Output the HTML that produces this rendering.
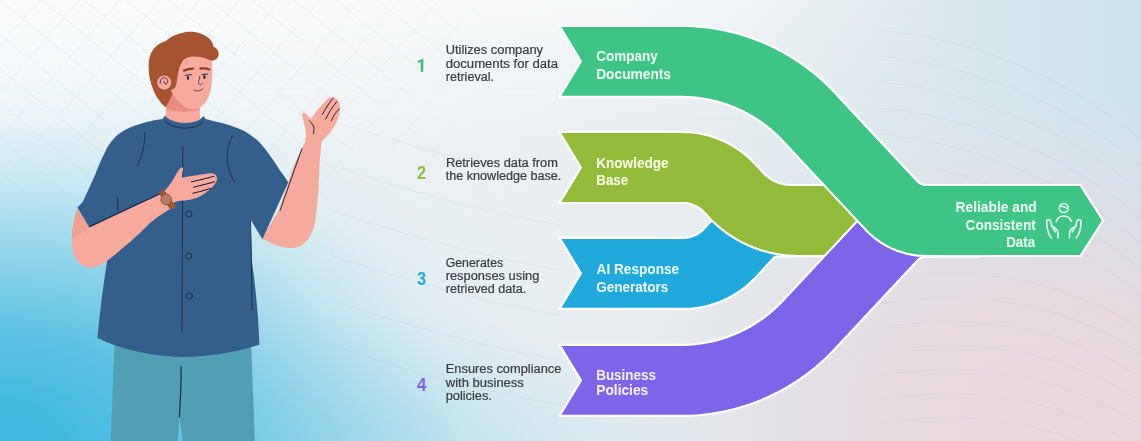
<!DOCTYPE html>
<html><head><meta charset="utf-8">
<style>
html,body{margin:0;padding:0;background:#fff;}
body{width:1141px;height:441px;overflow:hidden;font-family:"Liberation Sans",sans-serif;}
svg{display:block}
.d{font-family:"Liberation Sans",sans-serif;font-size:12px;fill:#3a3f44;}
.n{font-family:"Liberation Sans",sans-serif;font-size:18px;font-weight:bold;}
.t{font-family:"Liberation Sans",sans-serif;font-size:15px;font-weight:bold;fill:#f2fff6;}
</style></head><body>
<svg width="1141" height="441" viewBox="0 0 1141 441">
<defs>
<linearGradient id="bg0" x1="0" y1="0" x2="1141" y2="0" gradientUnits="userSpaceOnUse">
<stop offset="0" stop-color="#f7f9fa"/><stop offset="0.3" stop-color="#eff3f5"/><stop offset="0.6" stop-color="#e7edf0"/><stop offset="0.8" stop-color="#dce8ee"/><stop offset="1" stop-color="#cae2eb"/>
</linearGradient>
<radialGradient id="bgc" cx="0" cy="0" r="1.3" gradientUnits="userSpaceOnUse" gradientTransform="translate(0,447) scale(495,345)">
<stop offset="0" stop-color="#3fb8de" stop-opacity="1"/>
<stop offset="0.1" stop-color="#3fb8de" stop-opacity="0.97"/>
<stop offset="0.254" stop-color="#3fb8de" stop-opacity="0.84"/>
<stop offset="0.43" stop-color="#3fb8de" stop-opacity="0.55"/>
<stop offset="0.592" stop-color="#3fb8de" stop-opacity="0.26"/>
<stop offset="0.723" stop-color="#3fb8de" stop-opacity="0.08"/>
<stop offset="0.846" stop-color="#3fb8de" stop-opacity="0.02"/>
<stop offset="1" stop-color="#3fb8de" stop-opacity="0"/>
</radialGradient>
<radialGradient id="bgc2" cx="0" cy="0" r="1" gradientUnits="userSpaceOnUse" gradientTransform="translate(350,475) scale(400,165)">
<stop offset="0" stop-color="#3fb8de" stop-opacity="0.26"/>
<stop offset="0.35" stop-color="#3fb8de" stop-opacity="0.17"/>
<stop offset="0.6" stop-color="#3fb8de" stop-opacity="0.1"/>
<stop offset="0.85" stop-color="#3fb8de" stop-opacity="0.03"/>
<stop offset="1" stop-color="#3fb8de" stop-opacity="0"/>
</radialGradient>
<radialGradient id="bgp" cx="0" cy="0" r="1" gradientUnits="userSpaceOnUse" gradientTransform="translate(1060,420) scale(440,330)">
<stop offset="0" stop-color="#e8d6dc" stop-opacity="1"/>
<stop offset="0.35" stop-color="#e7d8de" stop-opacity="0.92"/>
<stop offset="0.65" stop-color="#e4dbe2" stop-opacity="0.62"/>
<stop offset="0.85" stop-color="#e3e0e7" stop-opacity="0.27"/>
<stop offset="1" stop-color="#e3e3e9" stop-opacity="0"/>
</radialGradient>
<filter id="nf" x="0" y="0" width="1141" height="441" filterUnits="userSpaceOnUse"><feOffset dx="0" dy="0"/></filter>
<linearGradient id="bgt" x1="0" y1="0" x2="0" y2="150" gradientUnits="userSpaceOnUse">
<stop offset="0" stop-color="#fbfcfd" stop-opacity="0.75"/><stop offset="0.4" stop-color="#fbfcfd" stop-opacity="0.4"/><stop offset="1" stop-color="#fbfcfd" stop-opacity="0"/>
</linearGradient>
<linearGradient id="bgtm" x1="0" y1="0" x2="1141" y2="0" gradientUnits="userSpaceOnUse">
<stop offset="0" stop-color="#fff" stop-opacity="1"/><stop offset="0.55" stop-color="#fff" stop-opacity="1"/><stop offset="0.85" stop-color="#fff" stop-opacity="0"/>
</linearGradient>
<mask id="mt" maskUnits="userSpaceOnUse" x="0" y="0" width="1141" height="441"><rect width="1141" height="441" fill="url(#bgtm)"/></mask>
</defs>
<rect width="1141" height="441" fill="url(#bg0)"/>
<rect width="1141" height="150" fill="url(#bgt)" mask="url(#mt)"/>
<rect width="1141" height="441" fill="url(#bgp)"/>
<rect width="1141" height="441" fill="url(#bgc2)"/>
<rect width="1141" height="441" fill="url(#bgc)"/>
<defs><radialGradient id="gm" cx="0" cy="0" r="1" gradientUnits="userSpaceOnUse" gradientTransform="translate(120,40) scale(420,230)">
<stop offset="0" stop-color="#fff" stop-opacity="1"/><stop offset="0.6" stop-color="#fff" stop-opacity="0.7"/><stop offset="1" stop-color="#fff" stop-opacity="0"/></radialGradient>
<mask id="gmask" maskUnits="userSpaceOnUse" x="0" y="0" width="1141" height="441"><rect width="1141" height="441" fill="url(#gm)"/></mask></defs>
<g mask="url(#gmask)"><path d="M-504,0 L-4,410 M-462,0 L38,410 M-420,0 L80,410 M-378,0 L122,410 M-336,0 L164,410 M-294,0 L206,410 M-252,0 L248,410 M-210,0 L290,410 M-168,0 L332,410 M-126,0 L374,410 M-84,0 L416,410 M-42,0 L458,410 M0,0 L500,410 M42,0 L542,410 M84,0 L584,410 M126,0 L626,410 M168,0 L668,410 M210,0 L710,410 M252,0 L752,410 M294,0 L794,410 M336,0 L836,410 M378,0 L878,410 M420,0 L920,410 M462,0 L962,410 M504,0 L1004,410 M546,0 L1046,410 M0,0 L-350,402 M40,0 L-310,402 M80,0 L-270,402 M120,0 L-230,402 M160,0 L-190,402 M200,0 L-150,402 M240,0 L-110,402 M280,0 L-70,402 M320,0 L-30,402 M360,0 L10,402 M400,0 L50,402 M440,0 L90,402 M480,0 L130,402 M520,0 L170,402 M560,0 L210,402 M600,0 L250,402 M640,0 L290,402 M680,0 L330,402 M720,0 L370,402 M760,0 L410,402 M800,0 L450,402 M840,0 L490,402" fill="none" stroke="#c3ced5" stroke-width="1" opacity="0.28"/></g>
<g id="waves"><path d="M880,30 C960,38 1060,70 1141,140 M880,56 C960,64 1060,96 1141,166 M880,82 C960,90 1060,122 1141,192 M880,108 C960,116 1060,148 1141,218 M880,134 C960,142 1060,174 1141,244 M880,160 C960,168 1060,200 1141,270 M880,186 C960,194 1060,226 1141,296 M880,280 C960,265 1060,275 1141,330 M880,304 C960,289 1060,299 1141,354 M880,328 C960,313 1060,323 1141,378 M880,352 C960,337 1060,347 1141,402 M880,376 C960,361 1060,371 1141,426 M880,400 C960,385 1060,395 1141,450 M880,424 C960,409 1060,419 1141,474 M330,120 C420,150 500,170 560,180 M330,165 C420,195 500,215 560,225 M330,210 C420,240 500,260 560,270 M330,255 C420,285 500,305 560,315 M330,300 C420,330 500,350 560,360 M330,345 C420,375 500,395 560,405" fill="none" stroke="#9fb0bd" stroke-width="1" opacity="0.12"/></g>

<g id="char" stroke-linecap="round" stroke-linejoin="round">
<!-- pants -->
<path d="M114.6,340 L110.6,441 L177.6,441 L179.4,417 L183.1,441 L254.9,441 L251,340 Z" fill="#529fb5"/>
<path d="M181.1,366.5 C181.3,385 180.3,402 179.4,417" fill="none" stroke="#1c2b45" stroke-width="1.2"/>
<!-- right upper arm / forearm (raised) -->
<path d="M306,140.5 C300,152 296,160 293,168 C289,180 284,195 278.8,210.6 L262,238 C268,243 285,250 296,247.5 C306,245 313,236 315.5,219 C317.5,205 318.5,195 319.6,162 L321.6,141 Z" fill="#f6aa9e"/>
<!-- right hand -->
<path d="M303.5,148.5 C304.5,144 305.5,141 305.9,137.4 C306,134 305.8,131 305.1,127.9 C304.3,124 303.2,120.5 302.4,116.7 C301.9,114 302.3,113 303.5,113.1 C304.8,113 305.8,113.6 306.7,114.4 C308,115.8 309.3,117.4 310.6,119.1 C313,115.5 315.8,112 318.6,108.8 C321.4,105.5 324.4,102.2 327.3,99.3 C329,97.7 330.6,96.9 332.1,96.9 C333.8,96.9 335,97.5 336,98.5 C337,99.4 337.8,100.4 338.4,101.7 C339.3,103.2 339.8,104.8 340,106.4 C340.2,108.5 340,110.6 339.5,112.8 C338.8,115.8 337.9,118.7 336.8,121.5 C335.3,125 333.5,128.2 331.3,131 C328.8,134.3 326,137.2 323.3,139.8 C321.8,141.5 320.8,143.3 320.2,145.3 L319.4,155 Z" fill="#f6aa9e"/>
<g fill="none" stroke="#1c1c38" stroke-width="0.95">
<path d="M302,148.6 C296,165 288,188 280,210.6"/>
<path d="M309.4,120.7 C311.5,123 313,125 313.8,127.1 C314.2,129 314,131.5 313.5,133.4"/>
<path d="M322.5,114.4 C325.5,108.5 329,103 332.9,98.5"/>
<path d="M325.7,119.1 C329,112.5 332.5,106.5 336.8,101.7"/>
<path d="M331.3,120.7 C333.5,116 336,112 339.2,108.8"/>
</g>
<!-- left upper arm (skin under sleeve) -->
<path d="M77.2,208.2 C75,215 74,219 73.6,223.6 C72.3,229 71.6,234 71.8,239.9 L80,250 L146.6,226.6 L89.2,227.2 Z" fill="#f0a092"/>
<!-- shirt body -->
<path d="M162.5,119 C156,120 150,121 144.9,122.5 C138,124.5 132,126.5 127.4,128.7 C122,131.5 118,134 114.9,137.4 C110,142.5 107,147 104.9,152.4 C101,160 98,167 95,174.9 C90,186 86,195 82.5,202.3 L77.4,207.5 L89.2,227.2 L107,262 C104,280 100,310 97.4,338 C120,349.2 150,356 180,357 C210,357.4 240,351 259.4,344.8 C258.6,320 256,290 252,262 L250.2,219 L262.4,239.2 L288.2,182.5 C285,177 282.5,173.5 279.6,169.9 C276,164 273,159.5 269.6,154.9 C266,150 263,146 259.6,142.4 C255,138 250,134.5 244.7,131.2 C238,128 231,125.5 224.7,123.7 C218,122 212,120.8 205.7,119 C198,127 172,128 162.5,119 Z" fill="#345e8c"/>
<!-- neck -->
<path d="M166.5,92 L165.6,118 C172,128 196,128 200,118 L199.4,100 Z" fill="#f6aa9e"/>
<path d="M167,96 L170.4,89.5 C175,98 184,106 194,109.4 L199.6,107 L199.5,109.6 C192,112.5 176,112.5 166.3,109 Z" fill="#ea8c7f"/>
<!-- collar -->
<path d="M162.5,119 C170,130 198,131 205.7,119 L203.5,116 C197,125.5 172,125 165,115.5 Z" fill="#345e8c"/>
<path d="M165,121 C174,130.5 196,130.5 203.5,121.5" fill="none" stroke="#1c2b45" stroke-width="0.9"/>
<!-- shirt lines -->
<g fill="none" stroke="#1c2b45" stroke-width="0.9">
<path d="M182.8,147 L182,331"/>
<path d="M144.8,132.5 C145,145 142,156 137.4,166.2"/>
<path d="M232.2,136 C226,148 224,165 234.7,182.4"/>
<path d="M117.2,197 C117.5,202 118,206 118,210.5"/>
<path d="M250.5,220 C251.3,250 251.8,285 252,310"/>
</g>
<g fill="#345e8c" stroke="#1c2b45" stroke-width="0.9">
<circle cx="188.7" cy="214" r="3.1"/><circle cx="188.7" cy="256.1" r="3.1"/><circle cx="189.2" cy="296" r="3.1"/>
</g>
<!-- left forearm -->
<path d="M89.6,226.8 L159.9,194.2 L170.2,208.9 C160,215 150,222 146.6,226.6 C135,238 120,251 107.2,260.8 C104.5,263 102,264.5 99.9,265.3 C96,267.3 92.5,268.2 89,268 C85.5,267.5 82.5,265.8 80,263.5 C77,261 74.8,258 73.6,254.4 C72.3,250 71.7,245 71.8,239.9 Z" fill="#f6aa9e"/>
<path d="M89.6,226.6 L160,193.8" fill="none" stroke="#1c2b45" stroke-width="1.2"/>
<!-- left hand -->
<path d="M161,193 L165,190.6 C167.5,187.8 169.8,184.8 171.8,181.8 C173.8,178.6 175.5,175.4 177.2,172.2 C178.6,169.8 180,168 181.6,167.4 C182.8,167.2 183.2,168.2 183,169.6 C182.4,172.3 182,175 182,177.7 C186.3,177 190.6,176.3 194.9,175.6 C199.9,174.8 204.9,174 209.9,173.3 C212.8,173 214.8,173.9 216,175.6 C216.9,176.8 217.2,178.2 216.9,179.7 C216.4,181.8 215.4,183.6 213.9,185.2 C212.3,187.1 210.5,188.9 208.5,190.6 C206.4,192.4 204.1,194 201.7,195.4 C198.3,197.2 194.7,198.6 190.8,199.5 C187.2,200.3 183.6,200.7 179.9,200.8 C177.5,201.2 175.2,201.9 173.1,202.9 L171,208.6 Z" fill="#f6aa9e"/>
<g fill="none" stroke="#1c1c38" stroke-width="1.05">
<path d="M191.5,181.8 C199,180.2 206.5,178.2 213.9,176.3"/>
<path d="M193.5,187.2 C200.5,185.6 207.5,183.8 214.6,181.8"/>
<path d="M192.9,193.3 C198.8,192 204.8,190.4 210.5,188.6"/>
</g>
<!-- watch -->
<path d="M158.9,192.2 L163.2,189.4 L175.8,206.6 L171.6,209.6 Z" fill="#9c5636" stroke="#9c5636" stroke-width="0.8"/>
<circle cx="166.2" cy="199.4" r="5.3" fill="#b87c62" stroke="#8f4e31" stroke-width="0.9"/>
<!-- head: hair back -->
<path d="M165.9,107.6 C163,105 161,103 160,101.5 C156,96 154,92 153.2,89.5 C150,82 148.4,74 148.6,65 C149,57 151,52 154.5,48 C157,45 160,43 163.5,41.9 C165,41.6 166,41 167,40 C172,36 180,32.8 187.6,31.8 C195,31 203,33 209.2,38.6 C212,41.5 213,44 213.5,46.5 C217,48.5 219,51 218.6,54.5 C218.3,58 215.5,60.5 212.1,60.8 L196,59 L178,75 L172,95 Z" fill="#a6532f"/>
<!-- face -->
<path d="M179,62 C186,55 200,55 211.6,60.5 C212.4,66 212.6,72 212.1,76 C212,81 211.8,84 211.2,87.7 C210.5,92 209.2,95.5 207.6,98.5 C205.8,102 203.8,104.8 201.2,106.7 C199,108.5 196.5,109.4 194,109.4 C191,109.4 187.8,108.6 184.9,106.7 C181.5,104.5 178.3,101.5 175.8,98.5 C173.5,95.5 171.5,92 170.4,89.5 C168,84 172,68 179,62 Z" fill="#f6aa9e"/>
<!-- hair front/sideburn -->
<path d="M212.1,60.8 C208,59.5 204,57.5 196.7,55.6 C192,54.8 187,56.5 183.5,60 C180,64 178.5,70 177.6,76 C177,81 176.5,85 175,88 L170.5,90.5 L166,84 L166,62 L184,47 L208,50 Z" fill="#a6532f"/>
<!-- ear -->
<circle cx="164.2" cy="82.6" r="7.1" fill="#f6aa9e"/>
<path d="M160.2,83.5 C159.6,79 163.1,76.5 166.1,78.2 C168.4,79.7 168.2,83 165.9,84.2 M163.6,81.5 L165.9,84.2" fill="none" stroke="#1c1c38" stroke-width="0.8"/>
<!-- brows -->
<path d="M184,70.6 C187,69.2 190,68.6 193.1,68.6" fill="none" stroke="#86401f" stroke-width="2.3"/>
<path d="M200.5,68.5 C203.5,68 206.5,68.4 209.2,69.5" fill="none" stroke="#86401f" stroke-width="2.3"/>
<!-- eyes -->
<ellipse cx="188" cy="77.9" rx="1.15" ry="1.9" fill="#26264f"/>
<ellipse cx="204.4" cy="77" rx="1.15" ry="1.9" fill="#26264f"/>
<g fill="none" stroke="#26264f" stroke-width="1">
<path d="M185.3,75.5 C187,74.9 189.3,74.6 191.3,74.7"/>
<path d="M202.1,74.7 C204,74.2 205.8,74 207.6,74.1"/>
</g>
<g fill="none" stroke="#26264f" stroke-width="0.8">
<path d="M199.8,76.4 C199.4,79 198.7,81 198.5,82.2 C198.6,84.8 201,86 202.7,83.3"/>
<path d="M194,89.8 C196.5,91.8 200.5,91.3 203,88.6"/>
</g>
</g>

<g stroke="#fff" stroke-width="2.1" stroke-linejoin="round">
<path d="M559.5,237.9 L683.0,237.9 L683.6,237.9 L684.2,237.9 L684.8,237.8 L685.3,237.8 L685.9,237.8 L686.5,237.7 L687.1,237.6 L687.7,237.5 L688.2,237.4 L688.8,237.3 L689.4,237.2 L689.9,237.0 L690.5,236.9 L691.1,236.7 L691.6,236.6 L692.2,236.4 L692.7,236.2 L693.3,236.0 L693.8,235.8 L694.4,235.5 L694.9,235.3 L695.4,235.0 L695.9,234.8 L696.5,234.5 L697.0,234.2 L697.5,233.9 L698.0,233.6 L698.5,233.3 L699.0,233.0 L699.4,232.7 L699.9,232.3 L700.4,232.0 L700.8,231.6 L701.3,231.2 L701.7,230.9 L702.2,230.5 L702.6,230.1 L703.0,229.7 L703.4,229.3 L703.8,228.8 L707.6,224.8 L709.4,222.9 L711.2,221.1 L713.0,219.4 L714.8,217.7 L716.7,216.0 L718.7,214.3 L720.6,212.7 L722.6,211.2 L724.6,209.6 L726.7,208.1 L728.8,206.7 L730.9,205.3 L733.0,204.0 L735.2,202.6 L737.4,201.4 L739.6,200.2 L741.8,199.0 L744.1,197.9 L746.4,196.8 L748.7,195.7 L751.0,194.8 L753.4,193.8 L755.8,192.9 L758.2,192.1 L760.6,191.3 L763.0,190.6 L765.4,189.9 L767.9,189.2 L770.3,188.6 L772.8,188.1 L775.3,187.6 L777.8,187.2 L780.3,186.8 L782.8,186.4 L785.3,186.1 L787.8,185.9 L790.4,185.7 L792.9,185.6 L795.4,185.5 L798.0,185.5 L820.0,185.5 L820.0,256.5 L777.1,256.5 L777.0,256.5 L776.9,256.5 L776.8,256.5 L776.7,256.5 L776.6,256.5 L776.5,256.5 L776.4,256.5 L776.3,256.6 L776.3,256.6 L776.2,256.6 L776.1,256.6 L776.0,256.6 L775.9,256.7 L775.8,256.7 L775.7,256.7 L775.6,256.7 L775.5,256.8 L775.5,256.8 L775.4,256.8 L775.3,256.9 L775.2,256.9 L775.1,257.0 L775.0,257.0 L775.0,257.0 L774.9,257.1 L774.8,257.1 L774.7,257.2 L774.6,257.2 L774.6,257.3 L774.5,257.3 L774.4,257.4 L774.3,257.4 L774.3,257.5 L774.2,257.6 L774.1,257.6 L774.1,257.7 L774.0,257.7 L773.9,257.8 L773.9,257.9 L773.8,257.9 L755.8,277.3 L754.4,278.7 L752.9,280.2 L751.5,281.6 L750.0,283.0 L748.4,284.4 L746.9,285.7 L745.3,287.0 L743.7,288.2 L742.1,289.5 L740.4,290.7 L738.7,291.8 L737.0,292.9 L735.3,294.0 L733.6,295.1 L731.8,296.1 L730.0,297.1 L728.2,298.0 L726.4,298.9 L724.5,299.8 L722.7,300.6 L720.8,301.4 L718.9,302.2 L717.0,302.9 L715.1,303.6 L713.1,304.2 L711.2,304.8 L709.2,305.4 L707.2,305.9 L705.3,306.4 L703.3,306.8 L701.3,307.2 L699.3,307.6 L697.2,307.9 L695.2,308.1 L693.2,308.4 L691.2,308.6 L689.1,308.7 L687.1,308.8 L685.0,308.9 L683.0,308.9 L559.5,308.9 L580.9,273.4Z" fill="#1fa9dc"/>
<path d="M559.5,132.0 L682.0,132.0 L684.0,132.0 L686.1,132.1 L688.1,132.2 L690.2,132.3 L692.2,132.5 L694.2,132.8 L696.2,133.0 L698.3,133.3 L700.3,133.7 L702.3,134.1 L704.3,134.5 L706.2,135.0 L708.2,135.5 L710.2,136.1 L712.1,136.7 L714.1,137.3 L716.0,138.0 L717.9,138.7 L719.8,139.5 L721.7,140.3 L723.5,141.1 L725.4,142.0 L727.2,142.9 L729.0,143.8 L730.8,144.8 L732.6,145.8 L734.3,146.9 L736.0,148.0 L737.7,149.1 L739.4,150.2 L741.1,151.4 L742.7,152.7 L744.3,153.9 L745.9,155.2 L747.4,156.5 L749.0,157.9 L750.5,159.3 L751.9,160.7 L753.4,162.2 L754.8,163.6 L763.3,172.8 L763.8,173.3 L764.4,173.9 L764.9,174.4 L765.5,175.0 L766.1,175.5 L766.7,176.0 L767.3,176.5 L767.9,177.0 L768.6,177.5 L769.2,177.9 L769.9,178.4 L770.5,178.8 L771.2,179.2 L771.9,179.7 L772.5,180.0 L773.2,180.4 L773.9,180.8 L774.6,181.1 L775.4,181.5 L776.1,181.8 L776.8,182.1 L777.5,182.4 L778.3,182.7 L779.0,182.9 L779.8,183.2 L780.5,183.4 L781.3,183.6 L782.0,183.8 L782.8,184.0 L783.6,184.2 L784.4,184.3 L785.1,184.5 L785.9,184.6 L786.7,184.7 L787.5,184.8 L788.3,184.9 L789.1,184.9 L789.8,185.0 L790.6,185.0 L791.4,185.0 L880.0,185.0 L880.0,256.0 L798.5,256.0 L796.0,256.0 L793.5,255.9 L790.9,255.8 L788.4,255.6 L785.9,255.4 L783.4,255.1 L780.8,254.7 L778.3,254.3 L775.8,253.9 L773.4,253.4 L770.9,252.9 L768.4,252.3 L766.0,251.6 L763.5,250.9 L761.1,250.2 L758.7,249.4 L756.3,248.6 L754.0,247.7 L751.6,246.7 L749.3,245.8 L747.0,244.7 L744.7,243.6 L742.4,242.5 L740.2,241.3 L737.9,240.1 L735.7,238.9 L733.6,237.5 L731.4,236.2 L729.3,234.8 L727.2,233.4 L725.2,231.9 L723.2,230.3 L721.2,228.8 L719.2,227.2 L717.3,225.5 L715.4,223.8 L713.5,222.1 L711.7,220.4 L709.9,218.6 L708.2,216.7 L703.8,212.1 L703.4,211.6 L703.0,211.2 L702.6,210.8 L702.2,210.4 L701.7,210.0 L701.3,209.7 L700.8,209.3 L700.4,208.9 L699.9,208.6 L699.4,208.2 L699.0,207.9 L698.5,207.6 L698.0,207.3 L697.5,207.0 L697.0,206.7 L696.5,206.4 L695.9,206.1 L695.4,205.9 L694.9,205.6 L694.4,205.4 L693.8,205.1 L693.3,204.9 L692.7,204.7 L692.2,204.5 L691.6,204.3 L691.1,204.2 L690.5,204.0 L689.9,203.9 L689.4,203.7 L688.8,203.6 L688.2,203.5 L687.7,203.4 L687.1,203.3 L686.5,203.2 L685.9,203.1 L685.3,203.1 L684.8,203.1 L684.2,203.0 L683.6,203.0 L683.0,203.0 L559.5,203.0 L580.9,167.5Z" fill="#93bb3a"/>
<path d="M559.5,344.9 L681.0,344.9 L683.9,344.9 L686.7,344.8 L689.6,344.6 L692.4,344.4 L695.3,344.2 L698.1,343.8 L701.0,343.5 L703.8,343.0 L706.6,342.5 L709.4,342.0 L712.2,341.4 L715.0,340.7 L717.8,340.0 L720.5,339.2 L723.2,338.4 L726.0,337.5 L728.7,336.5 L731.3,335.5 L734.0,334.4 L736.6,333.3 L739.2,332.2 L741.8,330.9 L744.4,329.7 L746.9,328.3 L749.4,327.0 L751.9,325.5 L754.4,324.1 L756.8,322.5 L759.2,320.9 L761.5,319.3 L763.8,317.6 L766.1,315.9 L768.4,314.2 L770.6,312.3 L772.7,310.5 L774.9,308.6 L777.0,306.6 L779.0,304.6 L781.1,302.6 L783.0,300.5 L865.4,212.3 L866.5,211.0 L867.7,209.8 L869.0,208.6 L870.2,207.4 L871.5,206.3 L872.8,205.2 L874.1,204.1 L875.5,203.0 L876.8,202.0 L878.2,201.0 L879.6,200.0 L881.1,199.1 L882.5,198.2 L884.0,197.3 L885.5,196.4 L887.0,195.6 L888.5,194.8 L890.0,194.1 L891.6,193.3 L893.1,192.6 L894.7,192.0 L896.3,191.3 L897.9,190.7 L899.5,190.2 L901.1,189.6 L902.8,189.1 L904.4,188.6 L906.1,188.2 L907.7,187.8 L909.4,187.4 L911.1,187.1 L912.8,186.8 L914.5,186.6 L916.2,186.3 L917.9,186.1 L919.6,186.0 L921.3,185.9 L923.0,185.8 L924.7,185.7 L926.4,185.7 L980.0,185.7 L980.0,256.7 L926.4,256.7 L926.2,256.7 L925.9,256.7 L925.7,256.7 L925.4,256.7 L925.1,256.8 L924.9,256.8 L924.6,256.8 L924.4,256.9 L924.1,256.9 L923.9,257.0 L923.6,257.0 L923.4,257.1 L923.1,257.1 L922.9,257.2 L922.6,257.3 L922.4,257.4 L922.1,257.5 L921.9,257.5 L921.7,257.6 L921.4,257.7 L921.2,257.8 L921.0,258.0 L920.7,258.1 L920.5,258.2 L920.3,258.3 L920.1,258.4 L919.8,258.6 L919.6,258.7 L919.4,258.8 L919.2,259.0 L919.0,259.1 L918.8,259.3 L918.6,259.5 L918.4,259.6 L918.2,259.8 L918.0,260.0 L917.8,260.1 L917.6,260.3 L917.5,260.5 L917.3,260.7 L834.9,349.0 L832.0,352.1 L828.9,355.2 L825.8,358.2 L822.7,361.1 L819.4,364.0 L816.2,366.8 L812.8,369.5 L809.4,372.2 L806.0,374.8 L802.5,377.3 L798.9,379.8 L795.3,382.1 L791.7,384.4 L788.0,386.7 L784.3,388.8 L780.5,390.9 L776.6,392.9 L772.8,394.8 L768.9,396.7 L764.9,398.4 L761.0,400.1 L757.0,401.7 L752.9,403.2 L748.8,404.7 L744.7,406.0 L740.6,407.3 L736.5,408.5 L732.3,409.6 L728.1,410.6 L723.9,411.5 L719.6,412.3 L715.4,413.1 L711.1,413.7 L706.8,414.3 L702.5,414.8 L698.2,415.2 L693.9,415.5 L689.6,415.7 L685.3,415.9 L681.0,415.9 L559.5,415.9 L580.9,380.4Z" fill="#7d64e8"/>
<path d="M559.5,25.9 L681.0,25.9 L685.3,25.9 L689.6,26.0 L693.9,26.2 L698.2,26.6 L702.5,27.0 L706.8,27.4 L711.1,28.0 L715.4,28.7 L719.6,29.4 L723.9,30.3 L728.1,31.2 L732.3,32.2 L736.5,33.3 L740.6,34.5 L744.7,35.7 L748.8,37.1 L752.9,38.5 L757.0,40.0 L761.0,41.6 L764.9,43.3 L768.9,45.1 L772.8,46.9 L776.6,48.8 L780.5,50.8 L784.3,52.9 L788.0,55.1 L791.7,57.3 L795.3,59.6 L798.9,62.0 L802.5,64.4 L806.0,67.0 L809.4,69.6 L812.8,72.2 L816.2,75.0 L819.4,77.8 L822.7,80.7 L825.8,83.6 L828.9,86.6 L832.0,89.7 L834.9,92.8 L917.2,181.0 L917.4,181.2 L917.6,181.4 L917.8,181.6 L918.0,181.7 L918.2,181.9 L918.3,182.1 L918.5,182.2 L918.7,182.4 L919.0,182.6 L919.2,182.7 L919.4,182.9 L919.6,183.0 L919.8,183.1 L920.0,183.3 L920.2,183.4 L920.5,183.5 L920.7,183.6 L920.9,183.7 L921.2,183.9 L921.4,184.0 L921.6,184.1 L921.9,184.2 L922.1,184.2 L922.3,184.3 L922.6,184.4 L922.8,184.5 L923.1,184.6 L923.3,184.6 L923.6,184.7 L923.8,184.7 L924.1,184.8 L924.3,184.8 L924.6,184.9 L924.8,184.9 L925.1,184.9 L925.3,185.0 L925.6,185.0 L925.9,185.0 L926.1,185.0 L926.4,185.0 L1080.4,185.0 L1103.0,220.5 L1080.4,256.0 L926.4,256.0 L924.7,256.0 L922.9,255.9 L921.2,255.8 L919.5,255.7 L917.8,255.6 L916.1,255.4 L914.4,255.1 L912.7,254.9 L911.0,254.6 L909.4,254.3 L907.7,253.9 L906.0,253.5 L904.4,253.1 L902.7,252.6 L901.1,252.1 L899.5,251.5 L897.8,251.0 L896.2,250.4 L894.7,249.7 L893.1,249.1 L891.5,248.4 L890.0,247.6 L888.4,246.9 L886.9,246.1 L885.4,245.3 L883.9,244.4 L882.5,243.5 L881.0,242.6 L879.6,241.7 L878.2,240.7 L876.8,239.7 L875.4,238.7 L874.1,237.6 L872.8,236.5 L871.5,235.4 L870.2,234.3 L868.9,233.1 L867.7,231.9 L866.5,230.7 L865.3,229.4 L783.0,141.2 L781.1,139.1 L779.0,137.1 L777.0,135.1 L774.9,133.2 L772.7,131.3 L770.6,129.4 L768.4,127.6 L766.1,125.8 L763.8,124.1 L761.5,122.4 L759.2,120.8 L756.8,119.2 L754.4,117.7 L751.9,116.2 L749.4,114.8 L746.9,113.4 L744.4,112.1 L741.8,110.8 L739.2,109.6 L736.6,108.4 L734.0,107.3 L731.3,106.2 L728.7,105.2 L726.0,104.3 L723.2,103.4 L720.5,102.6 L717.8,101.8 L715.0,101.1 L712.2,100.4 L709.4,99.8 L706.6,99.2 L703.8,98.7 L701.0,98.3 L698.1,97.9 L695.3,97.6 L692.4,97.3 L689.6,97.1 L686.7,97.0 L683.9,96.9 L681.0,96.8 L559.5,96.8 L580.9,61.4Z" fill="#3ec484"/>
</g>
<g font-family="'Liberation Sans', sans-serif" filter="url(#nf)">
<path d="M423.3,58.8 L423.3,71.7 L420.7,71.7 L420.7,61.9 L417.9,62.9 L417.9,60.7 L422.9,58.8 Z" fill="#3cbd80"/>
<text x="416.90" y="178.60" font-size="18.00" font-weight="bold" fill="#93bb3a" textLength="9.12" lengthAdjust="spacingAndGlyphs">2</text>
<text x="416.90" y="285.00" font-size="18.00" font-weight="bold" fill="#1fa9dc" textLength="9.12" lengthAdjust="spacingAndGlyphs">3</text>
<text x="416.90" y="391.30" font-size="18.00" font-weight="bold" fill="#7d64e8" textLength="9.42" lengthAdjust="spacingAndGlyphs">4</text>
<text x="445.70" y="54.40" font-size="12.00" fill="#3a3f44" textLength="97.38" lengthAdjust="spacingAndGlyphs" stroke="#3a3f44" stroke-width="0.22">Utilizes company</text>
<text x="445.70" y="67.50" font-size="12.00" fill="#3a3f44" textLength="112.34" lengthAdjust="spacingAndGlyphs" stroke="#3a3f44" stroke-width="0.22">documents for data</text>
<text x="445.70" y="80.70" font-size="12.00" fill="#3a3f44" textLength="48.30" lengthAdjust="spacingAndGlyphs" stroke="#3a3f44" stroke-width="0.22">retrieval.</text>
<text x="445.90" y="167.30" font-size="12.00" fill="#3a3f44" textLength="112.01" lengthAdjust="spacingAndGlyphs" stroke="#3a3f44" stroke-width="0.22">Retrieves data from</text>
<text x="445.70" y="180.20" font-size="12.00" fill="#3a3f44" textLength="115.68" lengthAdjust="spacingAndGlyphs" stroke="#3a3f44" stroke-width="0.22">the knowledge base.</text>
<text x="445.70" y="266.70" font-size="12.00" fill="#3a3f44" textLength="57.49" lengthAdjust="spacingAndGlyphs" stroke="#3a3f44" stroke-width="0.22">Generates</text>
<text x="445.70" y="280.00" font-size="12.00" fill="#3a3f44" textLength="93.63" lengthAdjust="spacingAndGlyphs" stroke="#3a3f44" stroke-width="0.22">responses using</text>
<text x="445.70" y="293.40" font-size="12.00" fill="#3a3f44" textLength="80.57" lengthAdjust="spacingAndGlyphs" stroke="#3a3f44" stroke-width="0.22">retrieved data.</text>
<text x="445.80" y="373.40" font-size="12.00" fill="#3a3f44" textLength="115.60" lengthAdjust="spacingAndGlyphs" stroke="#3a3f44" stroke-width="0.22">Ensures compliance</text>
<text x="445.77" y="386.60" font-size="12.00" fill="#3a3f44" textLength="78.11" lengthAdjust="spacingAndGlyphs" stroke="#3a3f44" stroke-width="0.22">with business</text>
<text x="445.70" y="399.80" font-size="12.00" fill="#3a3f44" textLength="46.17" lengthAdjust="spacingAndGlyphs" stroke="#3a3f44" stroke-width="0.22">policies.</text>
<text x="596.20" y="60.85" font-size="15.50" font-weight="bold" fill="#effff5" textLength="61.62" lengthAdjust="spacingAndGlyphs">Company</text>
<text x="596.20" y="78.80" font-size="15.50" font-weight="bold" fill="#effff5" textLength="74.81" lengthAdjust="spacingAndGlyphs">Documents</text>
<text x="596.20" y="167.60" font-size="15.50" font-weight="bold" fill="#f8ffe6" textLength="72.48" lengthAdjust="spacingAndGlyphs">Knowledge</text>
<text x="596.20" y="184.90" font-size="15.50" font-weight="bold" fill="#f8ffe6" textLength="32.11" lengthAdjust="spacingAndGlyphs">Base</text>
<text x="596.60" y="273.80" font-size="15.50" font-weight="bold" fill="#eefaff" textLength="82.53" lengthAdjust="spacingAndGlyphs">AI Response</text>
<text x="596.20" y="291.70" font-size="15.50" font-weight="bold" fill="#eefaff" textLength="72.11" lengthAdjust="spacingAndGlyphs">Generators</text>
<text x="596.20" y="379.60" font-size="15.50" font-weight="bold" fill="#f6f2ff" textLength="59.82" lengthAdjust="spacingAndGlyphs">Business</text>
<text x="596.20" y="394.50" font-size="15.50" font-weight="bold" fill="#f6f2ff" textLength="52.10" lengthAdjust="spacingAndGlyphs">Policies</text>
<text x="955.60" y="211.70" font-size="15.00" font-weight="bold" fill="#effff5" textLength="81.11" lengthAdjust="spacingAndGlyphs">Reliable and</text>
<text x="965.60" y="229.50" font-size="15.00" font-weight="bold" fill="#effff5" textLength="70.13" lengthAdjust="spacingAndGlyphs">Consistent</text>
<text x="1006.20" y="246.80" font-size="15.00" font-weight="bold" fill="#effff5" textLength="29.00" lengthAdjust="spacingAndGlyphs">Data</text>
</g>
<g fill="none" stroke="#ecfff4" stroke-width="1.55" stroke-linecap="round" stroke-linejoin="round">
<circle cx="1063.8" cy="208" r="4.5"/>
<path d="M1060.2,206.2 C1062.5,206 1065.5,207 1067.6,208.6"/>
<path d="M1056,221.6 C1057.5,218 1060.5,216 1063.8,216 C1067.1,216 1070.1,218 1071.6,221.6"/>
<path d="M1051.3,237.8 C1048.5,234.6 1047,231.2 1046.6,222.2 C1046.6,219.3 1050.2,218.8 1050.8,221.6 L1051.9,226.2 C1054.8,227.3 1058.1,230.2 1058.1,234.1 L1058.1,237.8"/>
<path d="M1051.9,226.2 L1055.3,231.8"/>
<path d="M1076.3,237.8 C1079.1,234.6 1080.6,231.2 1081,222.2 C1081,219.3 1077.4,218.8 1076.8,221.6 L1075.7,226.2 C1072.8,227.3 1069.5,230.2 1069.5,234.1 L1069.5,237.8"/>
<path d="M1075.7,226.2 L1072.3,231.8"/>
</g>

</svg>
</body></html>
